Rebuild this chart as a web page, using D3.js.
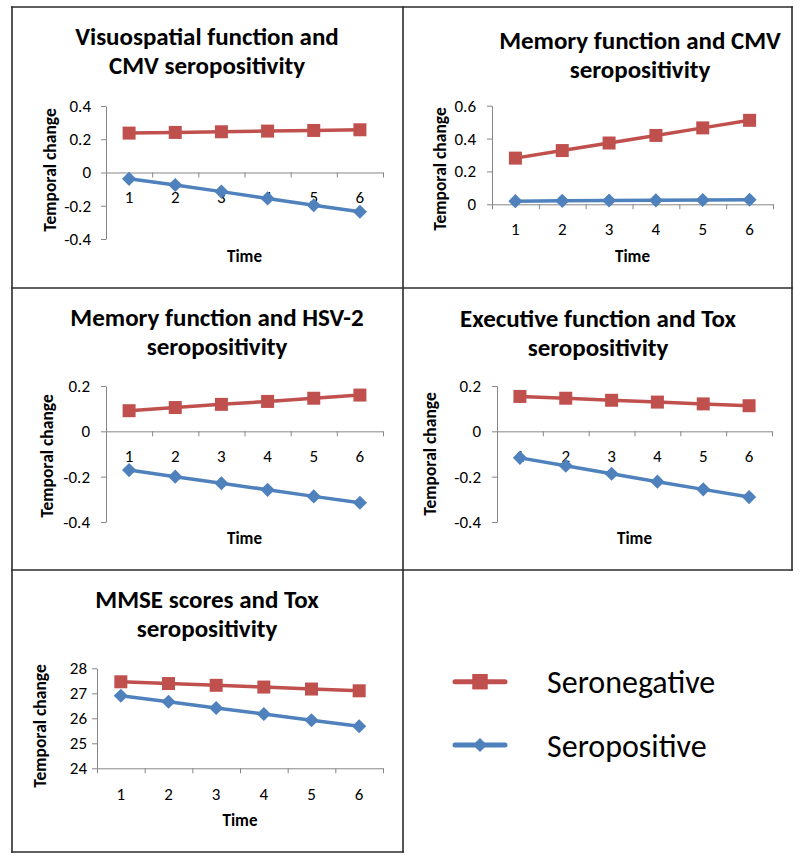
<!DOCTYPE html>
<html>
<head>
<meta charset="utf-8">
<script src="https://cdn.jsdelivr.net/npm/d3@7"></script>
<style>
  html, body { margin: 0; padding: 0; background: #ffffff; }
  svg { display: block; }
  text { font-family: Carlito, Calibri, Lato, "Open Sans", sans-serif; fill: #000; }
</style>
</head>
<body>
<svg id="chart" width="800" height="860"></svg>
<script>
// ---------------- DATA ----------------
const timePoints = ["1", "2", "3", "4", "5", "6"];
const seriesNames = ["Seronegative", "Seropositive"];
const axisTitleY = "Temporal change";
const axisTitleX = "Time";

const panelTitles = [
  ["Visuospatial function and", "CMV seropositivity"],
  ["Memory function and CMV", "seropositivity"],
  ["Memory function and HSV-2", "seropositivity"],
  ["Executive function and Tox", "seropositivity"],
  ["MMSE scores and Tox", "seropositivity"]
];

const visuoCmvNeg = [0.237, 0.241, 0.245, 0.249, 0.253, 0.257];
const visuoCmvPos = [-0.038, -0.075, -0.115, -0.156, -0.197, -0.236];
const memoryCmvNeg = [0.281, 0.327, 0.373, 0.419, 0.465, 0.511];
const memoryCmvPos = [0.019, 0.021, 0.023, 0.024, 0.026, 0.028];
const memoryHsvNeg = [0.091, 0.105, 0.119, 0.132, 0.146, 0.160];
const memoryHsvPos = [-0.171, -0.200, -0.229, -0.258, -0.287, -0.315];
const execToxNeg = [0.154, 0.146, 0.137, 0.129, 0.121, 0.113];
const execToxPos = [-0.117, -0.152, -0.187, -0.222, -0.256, -0.290];
const mmseToxNeg = [27.46, 27.39, 27.32, 27.25, 27.17, 27.10];
const mmseToxPos = [26.90, 26.66, 26.41, 26.17, 25.92, 25.68];

const ticksVisuo = [-0.4, -0.2, 0, 0.2, 0.4];
const ticksMemoryCmv = [0, 0.2, 0.4, 0.6];
const ticksMemoryHsv = [-0.4, -0.2, 0, 0.2];
const ticksExec = [-0.4, -0.2, 0, 0.2];
const ticksMmse = [24, 25, 26, 27, 28];

// ---------------- STYLE / LAYOUT ----------------
const RED = "#C0504D";
const BLUE = "#4F81BD";
const AXIS = "#868686";
const FRAME = "#2b2b2b";

const panels = [
  { plot: [106, 383, 106, 239], ticks: ticksVisuo, neg: visuoCmvNeg, pos: visuoCmvPos,
    title: panelTitles[0], titleX: 207, titleY: 45, ytX: 50, ytY: 170, timeY: 262, catLabelY: 203, gap: 15 },
  { plot: [492, 773, 105.7, 204.3], ticks: ticksMemoryCmv, neg: memoryCmvNeg, pos: memoryCmvPos,
    title: panelTitles[1], titleX: 640, titleY: 49, ytX: 440, ytY: 169, timeY: 262, catLabelY: 235, gap: 16 },
  { plot: [106, 383, 386, 522], ticks: ticksMemoryHsv, neg: memoryHsvNeg, pos: memoryHsvPos,
    title: panelTitles[2], titleX: 217, titleY: 326, ytX: 47, ytY: 456, timeY: 544, catLabelY: 462, gap: 16 },
  { plot: [497, 772, 386, 522], ticks: ticksExec, neg: execToxNeg, pos: execToxPos,
    title: panelTitles[3], titleX: 598, titleY: 327, ytX: 430, ytY: 454, timeY: 544, catLabelY: 462, gap: 16 },
  { plot: [97, 383, 668.3, 768.3], ticks: ticksMmse, neg: mmseToxNeg, pos: mmseToxPos,
    title: panelTitles[4], titleX: 207, titleY: 608, ytX: 40, ytY: 726, timeY: 826, catLabelY: 800, gap: 10 }
];

const svg = d3.select("#chart");

// Frame grid (single shared lines)
const frameLines = [
  [12, 7, 792, 7], [12, 288, 792, 288], [12, 570, 792, 570], [12, 852, 403, 852],
  [12, 7, 12, 852], [403, 7, 403, 852], [792, 7, 792, 570]
];
svg.append("g").selectAll("line").data(frameLines).join("line")
  .attr("x1", d => d[0]).attr("y1", d => d[1]).attr("x2", d => d[2]).attr("y2", d => d[3])
  .attr("stroke", FRAME).attr("stroke-width", 1.6).attr("stroke-linecap", "square");

const fmt = d => (d < 0 ? "-" : "") + String(Math.abs(d));

const squareSym = d3.symbol().type(d3.symbolSquare).size(13 * 13);
const diamondSym = d3.symbol().type(d3.symbolSquare).size(10 * 10);

panels.forEach((p) => {
  const g = svg.append("g");
  const [x0, x1, yTop, yBot] = p.plot;
  const yExt = d3.extent(p.ticks);
  const y = d3.scaleLinear().domain(yExt).range([yBot, yTop]);
  const x = d3.scaleBand().domain(timePoints).range([x0, x1]).padding(0);
  const xb = d3.scaleLinear().domain([0, timePoints.length]).range([x0, x1]);
  const cx = d => x(d) + x.bandwidth() / 2;

  // Title (two separate lines)
  p.title.forEach((line, i) => {
    g.append("text")
      .attr("x", p.titleX).attr("y", p.titleY + i * 29)
      .attr("text-anchor", "middle")
      .style("font-size", "25px").style("font-weight", "bold")
      .text(line);
  });

  // Y axis
  const yAxis = d3.axisLeft(y).tickValues(p.ticks).tickFormat(fmt)
    .tickSize(5).tickSizeOuter(0).tickPadding(p.gap - 5);
  const ya = g.append("g").attr("transform", `translate(${x0},0)`).call(yAxis);
  ya.select(".domain").attr("stroke", AXIS).attr("stroke-width", 1);
  ya.selectAll(".tick line").attr("stroke", AXIS).attr("stroke-width", 1);
  ya.selectAll(".tick text").style("font-size", "17px").attr("fill", "#000")
    .style("font-family", "Carlito, Calibri, Lato, sans-serif");

  // X axis (category boundaries) at y = 0 or bottom
  const axisYVal = (yExt[0] <= 0 && yExt[1] >= 0) ? 0 : yExt[0];
  const xAxisY = y(axisYVal);
  const xAxis = d3.axisBottom(xb).tickValues(d3.range(0, timePoints.length + 1))
    .tickFormat("").tickSize(5).tickSizeOuter(0);
  const xa = g.append("g").attr("transform", `translate(0,${xAxisY})`).call(xAxis);
  xa.select(".domain").attr("stroke", AXIS).attr("stroke-width", 1);
  xa.selectAll(".tick line").attr("stroke", AXIS).attr("stroke-width", 1);

  // Category labels
  g.append("g").selectAll("text").data(timePoints).join("text")
    .attr("x", d => cx(d)).attr("y", p.catLabelY)
    .attr("text-anchor", "middle")
    .style("font-size", "17px")
    .text(d => d);

  // Axis titles
  g.append("text")
    .attr("transform", `translate(${p.ytX + 6},${p.ytY}) rotate(-90)`)
    .attr("text-anchor", "middle")
    .style("font-size", "17.5px").style("font-weight", "bold")
    .text(axisTitleY);
  g.append("text")
    .attr("x", (x0 + x1) / 2).attr("y", p.timeY)
    .attr("text-anchor", "middle")
    .style("font-size", "17px").style("font-weight", "bold")
    .text(axisTitleX);

  // Series
  const line = d3.line().x((d, i) => cx(timePoints[i])).y(d => y(d));
  const series = [
    { vals: p.neg, color: RED, sym: squareSym, rot: 0 },
    { vals: p.pos, color: BLUE, sym: diamondSym, rot: 45 }
  ];
  series.forEach(s => {
    g.append("path").datum(s.vals)
      .attr("d", line).attr("fill", "none")
      .attr("stroke", s.color).attr("stroke-width", 3.5)
      .attr("stroke-linejoin", "round");
    g.append("g").selectAll("path").data(s.vals).join("path")
      .attr("d", s.sym)
      .attr("transform", (d, i) => `translate(${cx(timePoints[i])},${y(d)}) rotate(${s.rot})`)
      .attr("fill", s.color);
  });
});

// Legend
const legend = svg.append("g");
const legendItems = [
  { name: seriesNames[0], color: RED, y: 681.7, sym: d3.symbol().type(d3.symbolSquare).size(16 * 15), rot: 0 },
  { name: seriesNames[1], color: BLUE, y: 745, sym: d3.symbol().type(d3.symbolSquare).size(10 * 10), rot: 45 }
];
legendItems.forEach(it => {
  legend.append("line")
    .attr("x1", 455).attr("x2", 505).attr("y1", it.y).attr("y2", it.y)
    .attr("stroke", it.color).attr("stroke-width", 5).attr("stroke-linecap", "round");
  legend.append("path").attr("d", it.sym)
    .attr("transform", `translate(480,${it.y}) rotate(${it.rot})`)
    .attr("fill", it.color);
  legend.append("text")
    .attr("x", 547).attr("y", it.y + 11.5)
    .style("font-size", "32px")
    .text(it.name);
});
</script>
</body>
</html>
